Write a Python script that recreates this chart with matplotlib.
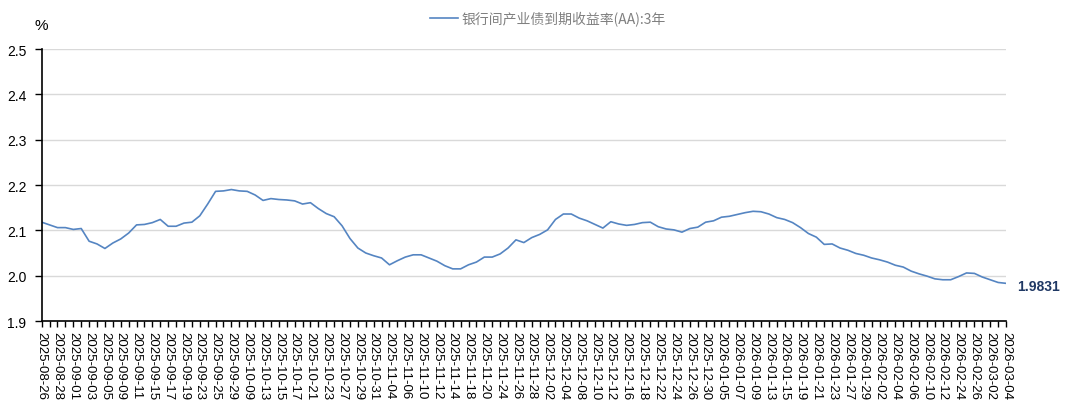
import numpy as np
import pandas as pd
import matplotlib
matplotlib.use('Agg')
import matplotlib.pyplot as plt

# trading days (weekdays minus holidays)
holidays = pd.to_datetime(['2025-10-01', '2025-10-02', '2025-10-03', '2025-10-06',
                           '2025-10-07', '2025-10-08', '2026-01-01', '2026-01-02',
                           '2026-02-16', '2026-02-17', '2026-02-18', '2026-02-19',
                           '2026-02-20', '2026-02-23'])
dates = pd.bdate_range('2025-08-26', '2026-03-04')
dates = dates[~dates.isin(holidays)]
labels = [d.strftime('%Y-%m-%d') for d in dates]

# yield values (%)
values = [
    2.118, 2.112, 2.106, 2.106, 2.102, 2.104, 2.076, 2.070, 2.060, 2.072,
    2.081, 2.094, 2.112, 2.113, 2.117, 2.124, 2.109, 2.109, 2.116, 2.118,
    2.132, 2.158, 2.186, 2.187, 2.190, 2.187, 2.186, 2.178, 2.166, 2.170,
    2.168, 2.167, 2.165, 2.158, 2.161, 2.148, 2.137, 2.130, 2.110, 2.082,
    2.061, 2.050, 2.044, 2.039, 2.024, 2.033, 2.041, 2.046, 2.046, 2.039,
    2.032, 2.022, 2.015, 2.015, 2.024, 2.030, 2.041, 2.041, 2.048, 2.061,
    2.079, 2.073, 2.084, 2.091, 2.101, 2.124, 2.136, 2.136, 2.127, 2.121,
    2.113, 2.105, 2.119, 2.114, 2.111, 2.113, 2.117, 2.118, 2.108, 2.103,
    2.101, 2.096, 2.104, 2.107, 2.118, 2.121, 2.129, 2.131, 2.135, 2.139,
    2.142, 2.141, 2.136, 2.128, 2.124, 2.117, 2.106, 2.093, 2.085, 2.069,
    2.070, 2.061, 2.056, 2.049, 2.045, 2.039, 2.035, 2.030, 2.023, 2.019,
    2.010, 2.004, 1.999, 1.993, 1.991, 1.991, 1.998, 2.006, 2.005, 1.997,
    1.991, 1.985, 1.9831,
]
series_name = '银行间产业债到期收益率(AA):3年'

plt.rcParams['font.family'] = ['Liberation Sans', 'Noto Sans CJK SC', 'DejaVu Sans']

fig = plt.figure(figsize=(10.8, 4.02), dpi=100)
ax = fig.add_axes([0.0386, 0.199, 0.8929, 0.6766])

x = np.arange(len(values))
ax.plot(x, values, color='#5585c2', lw=1.2, label=series_name)

ax.set_xlim(0, len(values) - 1)
ax.set_ylim(1.9, 2.5)
ax.set_yticks(np.arange(1.9, 2.51, 0.1))
ax.set_yticklabels([f'{v:.1f}' for v in np.arange(1.9, 2.51, 0.1)], fontsize=10)
ax.grid(axis='y', color='#d9d9d9', lw=1)
ax.set_axisbelow(True)

ax.set_xticks(x)
ax.set_xticklabels([lab if i % 2 == 0 else '' for i, lab in enumerate(labels)],
                   rotation=270, fontsize=9.5)
ax.tick_params(axis='x', length=4, width=1, color='black', pad=3)
ax.tick_params(axis='y', length=5, width=1, color='black', pad=6)

for s in ['top', 'right']:
    ax.spines[s].set_visible(False)
for s in ['left', 'bottom']:
    ax.spines[s].set_color('black')
    ax.spines[s].set_linewidth(1.2)

fig.text(0.032, 0.935, '%', fontsize=11, ha='left', va='center')

leg = ax.legend(loc='upper center', bbox_to_anchor=(0.525, 1.185), frameon=False,
                fontsize=10, handlelength=2.0, handletextpad=0.3)
for t in leg.get_texts():
    t.set_color('#808080')
    t.set_family(['Noto Sans CJK SC', 'DejaVu Sans'])

ax.annotate(f'{values[-1]:.4f}', xy=(x[-1], values[-1]), xytext=(8, -2),
            textcoords='offset points', fontsize=10, fontweight='bold',
            color='#1f3864', va='center', ha='left', annotation_clip=False)

fig.savefig('out.png', dpi=100)
